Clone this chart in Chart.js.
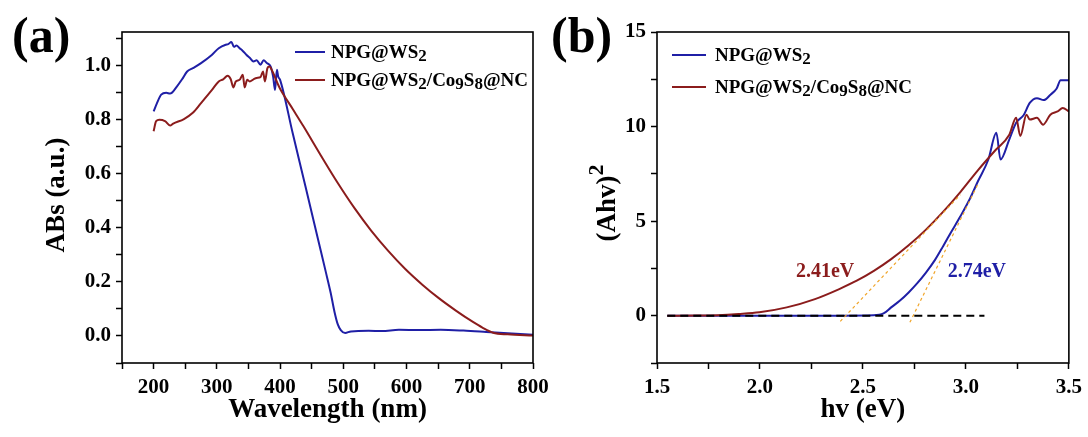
<!DOCTYPE html>
<html><head><meta charset="utf-8">
<script src="https://cdn.jsdelivr.net/npm/chart.js@4.4.1/dist/chart.umd.min.js"></script>
<style>
html,body{margin:0;padding:0;background:#fff;width:1088px;height:437px;overflow:hidden;position:relative}
canvas{position:absolute;top:0}
#ca{left:0}
#cb{left:544px}
</style></head>
<body>
<canvas id="ca" width="570" height="437"></canvas>
<canvas id="cb" width="544" height="437"></canvas>
<script>
// ---------- Panel (a): UV-vis absorbance ----------
const wlBlue = [200,205,212,220,226,237,245,253,262,275,292,303,314,318,323,327,331,336,341,347,352,358,363,369,374,379,385,389,392,395,397,400,420,440,460,472,480,486,491,496,503,512,540,561,588,620,654,690,726,760,800];
const absBlue = [0.831,0.86,0.893,0.90,0.897,0.924,0.95,0.979,0.991,1.01,1.04,1.065,1.078,1.08,1.088,1.07,1.075,1.065,1.055,1.04,1.03,1.016,1.02,1.004,1.02,1.01,0.998,0.96,0.91,0.985,0.96,0.948,0.75,0.555,0.358,0.24,0.16,0.09,0.045,0.022,0.011,0.017,0.019,0.018,0.023,0.022,0.023,0.02,0.015,0.01,0.005];
const wlRed = [200,204,209,218,226,231,248,262,275,292,303,310,317,322,326,330,336,341,344,348,352,358,363,369,373,376,380,383,388,396,400,420,437,464,491,518,544,571,598,625,651,678,705,720,737,760,800];
const absRed = [0.758,0.795,0.80,0.795,0.779,0.786,0.803,0.826,0.862,0.91,0.942,0.95,0.963,0.95,0.92,0.942,0.948,0.967,0.92,0.948,0.942,0.95,0.955,0.958,0.979,0.942,0.991,0.997,0.979,0.935,0.915,0.84,0.776,0.67,0.567,0.472,0.39,0.315,0.248,0.19,0.14,0.094,0.052,0.031,0.012,0.006,0.002];
const xTicksA = [150,200,250,300,350,400,450,500,550,600,650,700,750,800];
const xLabelsA = [200,300,400,500,600,700,800];
const yTicksA = [-0.1,0,0.1,0.2,0.3,0.4,0.5,0.6,0.7,0.8,0.9,1.0,1.1];
const yLabelsA = [0,0.2,0.4,0.6,0.8,1.0];

// ---------- Panel (b): Tauc plot ----------
const evBlue = [1.55,1.8,2.0,2.2,2.4,2.55,2.6,2.637,2.68,2.722,2.764,2.806,2.85,2.89,2.93,2.974,3.02,3.059,3.109,3.148,3.168,3.21,3.244,3.28,3.31,3.345,3.378,3.412,3.44,3.46,3.5];
const ahvBlue = [0,0,0,0,0,0.02,0.12,0.44,0.8,1.23,1.72,2.28,2.95,3.69,4.45,5.27,6.2,7.12,8.26,9.67,8.26,9.3,10.2,10.6,11.25,11.5,11.4,11.7,12.0,12.45,12.45];
const evRed = [1.55,1.7,1.795,1.896,1.997,2.13,2.267,2.385,2.47,2.553,2.637,2.722,2.806,2.89,2.974,3.059,3.143,3.21,3.244,3.264,3.294,3.31,3.345,3.375,3.41,3.445,3.47,3.5];
const ahvRed = [0,0.01,0.03,0.09,0.18,0.44,0.88,1.41,1.85,2.37,2.99,3.72,4.55,5.5,6.55,7.7,8.75,9.55,10.46,9.5,10.63,10.37,10.46,10.1,10.63,10.8,10.98,10.8];
const baselineX = [1.55,3.09];
const baselineY = [0,0];
const tangentRedX = [2.39,2.973];
const tangentRedY = [-0.3,6.4];
const tangentBlueX = [2.728,3.057];
const tangentBlueY = [-0.35,6.93];
const xTicksB = [1.5,1.75,2.0,2.25,2.5,2.75,3.0,3.25,3.5];
const xLabelsB = [1.5,2.0,2.5,3.0,3.5];
const yTicksB = [-2.5,0,2.5,5,7.5,10,12.5,15];
const yLabelsB = [0,5,10,15];
const gapLabels = [{text:'2.41eV', x:2.316, y:2.32, series:1},{text:'2.74eV', x:3.053, y:2.32, series:0}];

const seriesNames = [[{t:'NPG@WS'},{t:'2',sub:true}], [{t:'NPG@WS'},{t:'2',sub:true},{t:'/Co'},{t:'9',sub:true},{t:'S'},{t:'8',sub:true},{t:'@NC'}]];
const BLUE = '#1f1fa6';
const RED = '#8b1c1c';
const ORANGE = '#f0a52a';
const seriesColors = [BLUE, RED];
const FF = "'Liberation Serif','Times New Roman',serif";

const pts = (xs, ys) => xs.map((x,i)=>({x, y:ys[i]}));
const has = (arr, v) => arr.some(a => Math.abs(a - v) < 1e-9);

function segSize(s, size){ return s.sub ? Math.round(size*0.9) : (s.sup ? Math.round(size*0.8) : size); }
function richWidth(ctx, segs, size){
  let w = 0;
  for (const s of segs){ ctx.font = `bold ${segSize(s,size)}px ${FF}`; w += ctx.measureText(s.t).width; }
  return w;
}
function drawRich(ctx, x, y, segs, size){
  let cx = x;
  for (const s of segs){
    ctx.font = `bold ${segSize(s,size)}px ${FF}`;
    const dy = s.sub ? size*0.2 : (s.sup ? -size*0.38 : 0);
    ctx.fillText(s.t, cx, y + dy);
    cx += ctx.measureText(s.t).width;
  }
}

function decoPlugin(d){
  return {
    id: 'deco',
    afterDatasetsDraw(chart){
      const ctx = chart.ctx, ca = chart.chartArea;
      ctx.save();
      ctx.strokeStyle = '#000'; ctx.lineWidth = 1.6;
      ctx.strokeRect(ca.left, ca.top, ca.right - ca.left, ca.bottom - ca.top);
      ctx.fillStyle = '#000';
      ctx.textBaseline = 'alphabetic'; ctx.textAlign = 'left';
      ctx.font = `bold 50px ${FF}`;
      ctx.fillText(d.letter, d.letterX, 52);
      ctx.font = `bold 27px ${FF}`;
      ctx.textAlign = 'center'; ctx.textBaseline = 'middle';
      ctx.fillText(d.xTitle, (ca.left + ca.right)/2, 410);
      ctx.save();
      ctx.translate(d.yTitleX, d.yTitleY);
      ctx.rotate(-Math.PI/2);
      ctx.textAlign = 'left';
      const w = richWidth(ctx, d.yTitle, 27);
      drawRich(ctx, -w/2, 0, d.yTitle, 27);
      ctx.restore();
      ctx.textAlign = 'left'; ctx.textBaseline = 'middle';
      d.legendY.forEach((ly, i) => {
        ctx.strokeStyle = seriesColors[i]; ctx.lineWidth = 2;
        ctx.beginPath(); ctx.moveTo(d.legendX0, ly); ctx.lineTo(d.legendX1, ly); ctx.stroke();
        ctx.fillStyle = '#000';
        drawRich(ctx, d.legendTextX, ly + 1, seriesNames[i], 19);
      });
      if (d.notes){
        const xs = chart.scales.x, ys = chart.scales.y;
        ctx.textAlign = 'center'; ctx.textBaseline = 'middle';
        ctx.font = `bold 20px ${FF}`;
        d.notes.forEach(n => {
          ctx.fillStyle = seriesColors[n.series];
          ctx.fillText(n.text, xs.getPixelForValue(n.x), ys.getPixelForValue(n.y));
        });
      }
      ctx.restore();
    }
  };
}

function axis(ticksArr, labelsArr, min, max, digits, fit, isX){
  return {
    type: 'linear', min, max,
    afterBuildTicks: s => { s.ticks = ticksArr.map(v => ({value: v})); },
    afterFit: fit,
    ticks: {
      autoSkip: false, maxRotation: 0, minRotation: 0,
      padding: isX ? 6 : 5,
      color: '#000',
      font: {family: FF, size: 21, weight: 'bold'},
      callback: v => has(labelsArr, v) ? Number(v).toFixed(digits) : ''
    },
    grid: {display: true, drawOnChartArea: false, drawTicks: true, tickLength: 6, tickWidth: 1.5, tickColor: '#000'},
    border: {display: false}
  };
}

const baseLine = (color, w) => ({borderColor: color, backgroundColor: color, borderWidth: w, pointRadius: 0, fill: false});

new Chart(document.getElementById('ca'), {
  type: 'line',
  data: { datasets: [
    Object.assign({label:'NPG@WS2/Co9S8@NC', data: pts(wlRed, absRed), cubicInterpolationMode:'monotone'}, baseLine(RED, 2)),
    Object.assign({label:'NPG@WS2', data: pts(wlBlue, absBlue), cubicInterpolationMode:'monotone'}, baseLine(BLUE, 2))
  ]},
  options: {
    responsive: false, animation: false,
    layout: {padding: {top: 32, right: 37, left: 0, bottom: 0}},
    plugins: {legend: {display: false}, tooltip: {enabled: false}},
    scales: {
      x: axis(xTicksA, xLabelsA, 150, 800, 0, s => { s.height = 74; }, true),
      y: axis(yTicksA, yLabelsA, -0.1, 1.125, 1, s => { s.width = 122; }, false)
    }
  },
  plugins: [decoPlugin({letter:'(a)', letterX: 12, xTitle:'Wavelength (nm)', yTitle:[{t:'ABs (a.u.)'}], yTitleX: 57, yTitleY: 195,
    legendY:[52, 80], legendX0: 295, legendX1: 325, legendTextX: 331})]
});

new Chart(document.getElementById('cb'), {
  type: 'line',
  data: { datasets: [
    Object.assign({data: pts(baselineX, baselineY), borderDash: [8,5]}, baseLine('#000', 2)),
    Object.assign({data: pts(tangentRedX, tangentRedY), borderDash: [3,3]}, baseLine(ORANGE, 1.2)),
    Object.assign({data: pts(tangentBlueX, tangentBlueY), borderDash: [3,3]}, baseLine(ORANGE, 1.2)),
    Object.assign({label:'NPG@WS2/Co9S8@NC', data: pts(evRed, ahvRed), cubicInterpolationMode:'monotone'}, baseLine(RED, 2)),
    Object.assign({label:'NPG@WS2', data: pts(evBlue, ahvBlue), cubicInterpolationMode:'monotone'}, baseLine(BLUE, 2))
  ]},
  options: {
    responsive: false, animation: false,
    layout: {padding: {top: 32, right: 19, left: 0, bottom: 0}},
    plugins: {legend: {display: false}, tooltip: {enabled: false}},
    scales: {
      x: axis(xTicksB, xLabelsB, 1.5, 3.5, 1, s => { s.height = 74; }, true),
      y: axis(yTicksB, yLabelsB, -2.5, 15, 0, s => { s.width = 113; }, false)
    }
  },
  plugins: [decoPlugin({letter:'(b)', letterX: 7, xTitle:'hv (eV)', yTitle:[{t:'(Ahv)'},{t:'2',sup:true}], yTitleX: 64, yTitleY: 203,
    legendY:[55, 87], legendX0: 128, legendX1: 162, legendTextX: 171, notes: gapLabels})]
});
</script>
</body></html>
